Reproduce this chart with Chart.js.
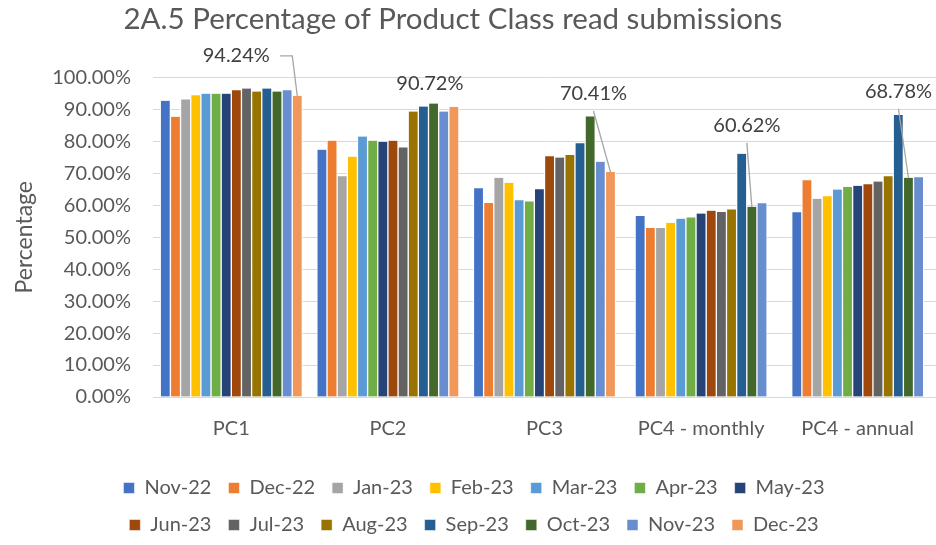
<!DOCTYPE html>
<html>
<head>
<meta charset="utf-8">
<script src="https://cdn.jsdelivr.net/npm/chart.js@4.4.1/dist/chart.umd.min.js"></script>
<style>
  html, body { margin: 0; padding: 0; background: #ffffff; }
  #wrap { width: 936px; height: 545px; }
</style>
</head>
<body>
<div id="wrap"><canvas id="chart" width="936" height="545"></canvas></div>
<script>
const categories = ['PC1', 'PC2', 'PC3', 'PC4 - monthly', 'PC4 - annual'];
const months = ['Nov-22', 'Dec-22', 'Jan-23', 'Feb-23', 'Mar-23', 'Apr-23', 'May-23',
                'Jun-23', 'Jul-23', 'Aug-23', 'Sep-23', 'Oct-23', 'Nov-23', 'Dec-23'];
const colors = ['#4472C4', '#ED7D31', '#A5A5A5', '#FFC000', '#5B9BD5', '#70AD47', '#264478',
                '#9E480E', '#636363', '#997300', '#255E91', '#43682B', '#698ED0', '#F1975A'];

// one row per category, one value per month (percent)
const pc1 = [92.7, 87.7, 93.1, 94.4, 94.9, 94.9, 94.9, 96.0, 96.5, 95.6, 96.5, 95.6, 96.0, 94.24];
const pc2 = [77.4, 80.2, 69.1, 75.2, 81.5, 80.2, 79.8, 80.2, 78.1, 89.3, 90.9, 91.8, 89.3, 90.72];
const pc3 = [65.3, 60.7, 68.6, 67.0, 61.6, 61.2, 65.0, 75.3, 74.9, 75.7, 79.4, 87.8, 73.6, 70.41];
const pc4Monthly = [56.6, 52.9, 52.9, 54.5, 55.8, 56.2, 57.4, 58.3, 57.9, 58.7, 76.1, 59.5, 60.62, null];
const pc4Annual = [57.8, 67.8, 62.0, 62.8, 64.9, 65.7, 66.1, 66.6, 67.4, 69.1, 88.2, 68.6, 68.78, null];
const rows = [pc1, pc2, pc3, pc4Monthly, pc4Annual];

const latestLabels = ['94.24%', '90.72%', '70.41%', '60.62%', '68.78%'];
const yTicks = { min: 0, max: 100, step: 10 };

const FONT = 'Lato, "Open Sans", sans-serif';
const TEXT = '#595959';

// where each call-out sits relative to the bar it points at
const callouts = [
  { bar: 13, dx: -61, dy: -40, elbow: true },
  { bar: 13, dx: -24, dy: -24, line: false },
  { bar: 13, dx: -17, dy: -78 },
  { bar: 11, dx: -5, dy: -81 },
  { bar: 11, dx: -10, dy: -86 }
];

const calloutPlugin = {
  id: 'callouts',
  afterDatasetsDraw(chart) {
    const ctx = chart.ctx;
    ctx.save();
    ctx.font = '20px ' + FONT;
    ctx.textAlign = 'center';
    ctx.textBaseline = 'middle';
    callouts.forEach((c, i) => {
      const el = chart.getDatasetMeta(c.bar).data[i];
      if (!el) return;
      const tx = el.x + c.dx;
      const ty = el.y + c.dy;
      ctx.fillStyle = '#404040';
      ctx.fillText(latestLabels[i], tx, ty);
      if (c.line === false) return;
      ctx.strokeStyle = '#a6a6a6';
      ctx.lineWidth = 1.3;
      ctx.beginPath();
      if (c.elbow) {
        const w = ctx.measureText(latestLabels[i]).width;
        ctx.moveTo(tx + w / 2 + 10, ty);
        ctx.lineTo(el.x - 5, ty);
      } else {
        ctx.moveTo(tx, ty + 17);
      }
      ctx.lineTo(el.x, el.y);
      ctx.stroke();
    });
    ctx.restore();
  }
};

// keep seven legend entries per row: narrow legend box centred near the middle
const LEGEND_W = 760;
const LEGEND_CX = 474;
const legendRows = {
  id: 'legendRows',
  beforeUpdate(chart) {
    const lg = chart.legend;
    if (!lg || lg._wrapped) return;
    const fit = lg.fit;
    lg.fit = function () {
      const full = this.maxWidth;
      this.maxWidth = Math.min(full, LEGEND_W);
      fit.call(this);
      this.maxWidth = full;
    };
    lg._wrapped = true;
  },
  afterLayout(chart) {
    const lg = chart.legend;
    lg.left = LEGEND_CX - LEGEND_W / 2;
    lg.right = LEGEND_CX + LEGEND_W / 2;
    lg.width = LEGEND_W;
  }
};

const datasets = months.map((m, j) => ({
  label: m,
  data: rows.map(r => r[j]),
  backgroundColor: colors[j],
  borderColor: '#ffffff',
  borderWidth: { left: 1, right: 1, top: 0, bottom: 0 },
  barThickness: 10.15,
  skipNull: true
}));

new Chart(document.getElementById('chart'), {
  type: 'bar',
  data: { labels: categories, datasets },
  plugins: [calloutPlugin, legendRows],
  options: {
    responsive: false,
    animation: false,
    layout: { padding: { left: 0, right: 0, top: 0, bottom: 0 } },
    plugins: {
      title: {
        display: true,
        text: '2A.5 Percentage of Product Class read submissions    ',
        color: TEXT,
        font: { family: FONT, size: 29.5, weight: 'normal' },
        padding: { top: 2, bottom: 40 }
      },
      legend: {
        position: 'bottom',
        labels: {
          color: TEXT,
          font: { family: FONT, size: 20 },
          boxWidth: 11,
          boxHeight: 11,
          padding: 17
        }
      },
      tooltip: { enabled: false }
    },
    scales: {
      x: {
        grid: { display: false, drawTicks: false },
        border: { display: true, color: '#d9d9d9' },
        ticks: { color: TEXT, font: { family: FONT, size: 20 }, padding: 20, maxRotation: 0 },
        afterFit(scale) { scale.height = 64; }
      },
      y: {
        min: yTicks.min,
        max: yTicks.max,
        grid: { color: '#d9d9d9', lineWidth: 1, drawTicks: false },
        border: { display: false },
        ticks: {
          stepSize: yTicks.step,
          color: TEXT,
          font: { family: FONT, size: 20 },
          padding: 22,
          callback: v => v.toFixed(2) + '%'
        },
        title: {
          display: true,
          text: 'Percentage',
          color: TEXT,
          font: { family: FONT, size: 23 },
          padding: { top: 11, bottom: 0 }
        },
        afterFit(scale) { scale.width = 153; }
      }
    }
  }
});
</script>
</body>
</html>
